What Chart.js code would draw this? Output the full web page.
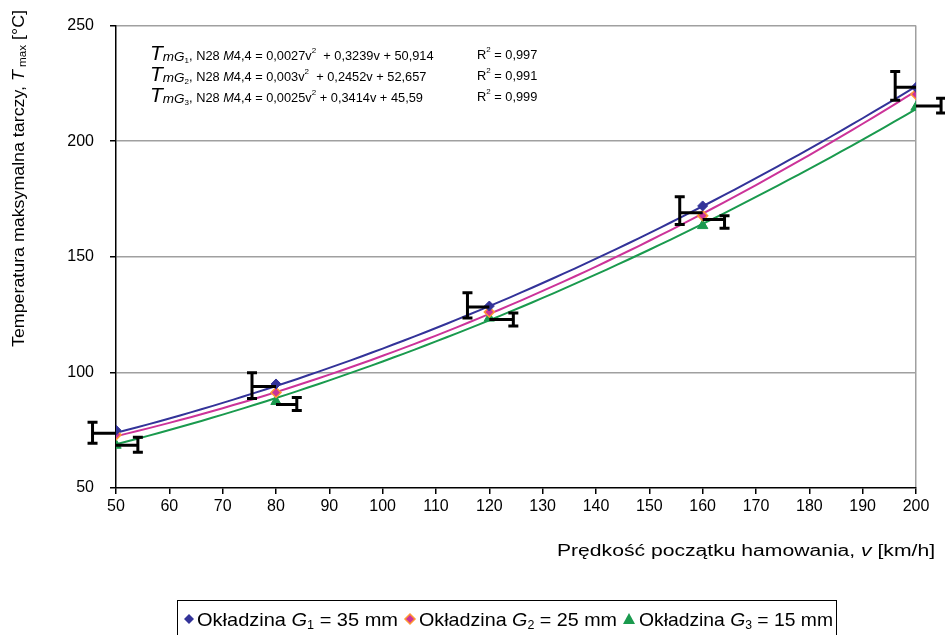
<!DOCTYPE html>
<html><head><meta charset="utf-8">
<script src="https://cdn.jsdelivr.net/npm/chart.js@4.4.1/dist/chart.umd.min.js"></script>
<style>html,body{margin:0;padding:0;background:#fff;}#wrap{position:relative;width:945px;height:635px;}</style>
</head><body><div id="wrap"><canvas id="c" width="945" height="635"></canvas></div>
<script>
// ---- data ----
const speeds = [50, 80, 120, 160, 200];
const tempG1 = [75.0, 95.0, 128.7, 172.0, 223.3];
const tempG2 = [73.0, 91.3, 126.1, 167.8, 220.3];
const tempG3 = [68.5, 87.4, 123.5, 163.5, 214.7];
// regression coefficients printed on the chart (a, b, c): T = a v^2 + b v + c
const fitG1 = [0.0027, 0.3239, 50.914];
const fitG2 = [0.003, 0.2452, 52.657];
const fitG3 = [0.0025, 0.3414, 45.59];
const r2Labels = ["0,997", "0,991", "0,999"];
// black error marks (left/upper and right/lower)
const upperX = [45.6, 75.5, 115.9, 155.7, 196.1];
const upperY = [73.7, 93.9, 128.3, 169.1, 223.3];
const upperLow = [69.4, 88.7, 123.5, 164.0, 217.7];
const upperHigh = [78.4, 99.9, 134.5, 176.0, 230.2];
const lowerX = [54.1, 83.9, 124.5, 164.1, 204.7];
const lowerY = [68.5, 86.1, 122.9, 166.1, 215.2];
const lowerLow = [65.5, 83.5, 120.1, 162.3, 212.2];
const lowerHigh = [71.9, 89.1, 125.7, 167.8, 218.6];
const xRange = [50, 200, 10];
const yRange = [50, 250, 50];

const F = "'Liberation Sans', Arial, sans-serif";
const C1 = '#333399', C2 = '#CC3399', C2b = '#FF9933', C3 = '#1A9A4E';

const pts = (ys) => speeds.map((v, i) => ({x: v, y: ys[i]}));
const trend = (c) => { const out = []; for (let v = speeds[0]; v <= speeds[speeds.length-1]; v += 2) out.push({x: v, y: c[0]*v*v + c[1]*v + c[2]}); return out; };

function rich(ctx, x, y, segs) {
  let cx = x;
  for (const s of segs) {
    ctx.font = s[1];
    ctx.fillText(s[0], cx, y + (s[2] || 0));
    cx += ctx.measureText(s[0]).width;
  }
  return cx;
}
function richWidth(ctx, segs) {
  let w = 0; segs.forEach(s => { ctx.font = s[1]; w += ctx.measureText(s[0]).width; }); return w;
}
// draw rich text starting at (x,y) horizontally fitted to width tw
function richFit(ctx, x, y, segs, tw) {
  const w = richWidth(ctx, segs);
  ctx.save();
  ctx.translate(x, y);
  ctx.scale(tw / w, 1);
  rich(ctx, 0, 0, segs);
  ctx.restore();
}

const marks = {
  id: 'marks',
  afterDatasetsDraw(chart) {
    const ctx = chart.ctx, xs = chart.scales.x, ys = chart.scales.y;
    ctx.save();
    ctx.strokeStyle = '#000'; ctx.lineWidth = 3; ctx.lineCap = 'butt';
    const cap = 5;
    const drawMark = (x0, xm, yh, lo, hi) => {
      const px0 = xs.getPixelForValue(x0), pxm = xs.getPixelForValue(xm);
      const py = ys.getPixelForValue(yh), plo = ys.getPixelForValue(lo), phi = ys.getPixelForValue(hi);
      ctx.beginPath();
      ctx.moveTo(px0, py); ctx.lineTo(pxm, py);
      ctx.moveTo(pxm, plo); ctx.lineTo(pxm, phi);
      ctx.moveTo(pxm - cap, plo); ctx.lineTo(pxm + cap, plo);
      ctx.moveTo(pxm - cap, phi); ctx.lineTo(pxm + cap, phi);
      ctx.stroke();
    };
    speeds.forEach((v, i) => {
      drawMark(v, upperX[i], upperY[i], upperLow[i], upperHigh[i]);
      drawMark(v, lowerX[i], lowerY[i], lowerLow[i], lowerHigh[i]);
    });
    ctx.restore();
  },
  afterDraw(chart) {
    const ctx = chart.ctx;
    ctx.save();
    ctx.fillStyle = '#000';
    ctx.textBaseline = 'alphabetic'; ctx.textAlign = 'left';
    // equations
    const eq = [
      ['1', '0,0027', '0,3239', '50,914', '  + '],
      ['2', '0,003', '0,2452', '52,657', '  + '],
      ['3', '0,0025', '0,3414', '45,59', ' + ']
    ];
    const base = [60, 81, 102];
    const nf = '12.8px ' + F;
    eq.forEach((e, i) => {
      const y = base[i];
      rich(ctx, 150, y, [
        ['T', 'italic 21px ' + F, 0],
        ['mG', 'italic 13.5px ' + F, 1],
        [e[0], '8px ' + F, 3],
        [', N28 ', nf, 0],
        ['M', 'italic ' + nf, 0],
        ['4,4 = ' + e[1] + 'v', nf, 0],
        ['2', '8px ' + F, -7],
        [e[4] + e[2] + 'v + ' + e[3], nf, 0]
      ]);
      rich(ctx, 477, y - 1, [
        ['R', nf, 0],
        ['2', '8px ' + F, -7],
        [' = ' + r2Labels[i], nf, 0]
      ]);
    });
    // x-axis title
    const xt = [['Prędkość początku hamowania, ', '16px ' + F, 0], ['v', 'italic 16px ' + F, 0], [' [km/h]', '16px ' + F, 0]];
    richFit(ctx, 557, 556, xt, 378);
    // y-axis title
    const yt = [['Temperatura maksymalna tarczy, ', '16px ' + F, 0], ['T', 'italic 16px ' + F, 0], [' max', '10.5px ' + F, 2], [' [°C]', '16px ' + F, 0]];
    ctx.save();
    ctx.translate(24, 347);
    ctx.rotate(-Math.PI / 2);
    richFit(ctx, 0, 0, yt, 337);
    ctx.restore();
    // legend
    ctx.strokeStyle = '#000'; ctx.lineWidth = 1;
    ctx.strokeRect(177.5, 600.5, 659, 40);
    const ly = 626, lf = '19px ' + F;
    const items = [[189, 197, '1', '35', 201], [410, 419, '2', '25', 198], [629, 639, '3', '15', 194]];
    items.forEach((it, i) => {
      const mx = it[0], my = 619;
      ctx.beginPath();
      if (i < 2) {
        ctx.moveTo(mx, my - 5); ctx.lineTo(mx + 5, my); ctx.lineTo(mx, my + 5); ctx.lineTo(mx - 5, my); ctx.closePath();
        ctx.fillStyle = i === 0 ? C1 : C2; ctx.fill();
        if (i === 1) { ctx.strokeStyle = C2b; ctx.lineWidth = 1.5; ctx.stroke(); }
      } else {
        ctx.moveTo(mx, my - 6); ctx.lineTo(mx + 6, my + 5); ctx.lineTo(mx - 6, my + 5); ctx.closePath();
        ctx.fillStyle = C3; ctx.fill();
      }
      ctx.fillStyle = '#000';
      const segs = [
        ['Okładzina ', lf, 0],
        ['G', 'italic ' + lf, 0],
        [it[2], '12px ' + F, 3],
        [' = ' + it[3] + ' mm', lf, 0]
      ];
      richFit(ctx, it[1], ly, segs, it[4]);
    });
    ctx.restore();
  }
};

new Chart(document.getElementById('c'), {
  type: 'scatter',
  data: {
    datasets: [
      {label: 'G1', data: pts(tempG1), pointStyle: 'rectRot', pointRadius: 5, backgroundColor: C1, borderColor: C1, borderWidth: 1, order: 0},
      {label: 'G2', data: pts(tempG2), pointStyle: 'rectRot', pointRadius: 5, backgroundColor: C2, borderColor: C2b, borderWidth: 1.5, order: 0},
      {label: 'G3', data: pts(tempG3), pointStyle: 'triangle', pointRadius: 6, backgroundColor: C3, borderColor: C3, borderWidth: 1, order: 0},
      {label: 't1', data: trend(fitG1), showLine: true, pointRadius: 0, borderColor: C1, borderWidth: 2, order: 1},
      {label: 't2', data: trend(fitG2), showLine: true, pointRadius: 0, borderColor: C2, borderWidth: 2, order: 1},
      {label: 't3', data: trend(fitG3), showLine: true, pointRadius: 0, borderColor: C3, borderWidth: 2, order: 1}
    ]
  },
  options: {
    responsive: false, animation: false, devicePixelRatio: 1,
    layout: {padding: {top: 23, right: 29, left: 0, bottom: 0}},
    plugins: {legend: {display: false}, tooltip: {enabled: false}},
    scales: {
      x: {
        type: 'linear', min: xRange[0], max: xRange[1],
        afterFit: s => { s.height = 147; },
        ticks: {stepSize: xRange[2], font: {family: F, size: 16}, color: '#000', padding: 3, maxRotation: 0, autoSkip: false},
        grid: {color: c => c.tick && c.tick.value === xRange[1] ? '#a0a0a0' : 'rgba(0,0,0,0)', tickColor: '#000', tickLength: 6, lineWidth: 1.5},
        border: {color: '#000', width: 1.5}
      },
      y: {
        min: yRange[0], max: yRange[1],
        afterFit: s => { s.width = 116; },
        ticks: {stepSize: yRange[2], font: {family: F, size: 16}, color: '#000', padding: 16},
        grid: {color: c => c.tick && c.tick.value === yRange[0] ? 'rgba(0,0,0,0)' : '#a0a0a0', tickColor: '#000', tickLength: 6, lineWidth: 1.5},
        border: {color: '#000', width: 1.5}
      }
    }
  },
  plugins: [marks]
});
</script>
</body></html>
